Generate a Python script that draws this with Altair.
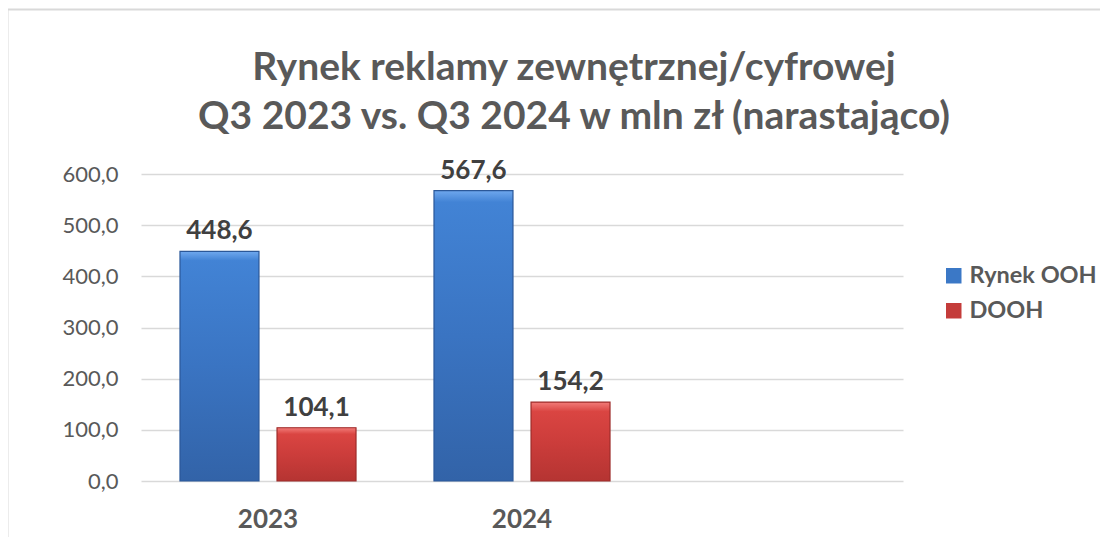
import altair as alt
import pandas as pd

years = ["2023", "2024"]
series = ["Rynek OOH", "DOOH"]
rynek_ooh = [448.6, 567.6]
dooh = [104.1, 154.2]
y_ticks = [0, 100, 200, 300, 400, 500, 600]
title_lines = ["Rynek reklamy zewnętrznej/cyfrowej", "Q3 2023 vs. Q3 2024 w mln zł (narastająco)"]

rows = []
for i, yr in enumerate(years):
    rows.append({"year": yr, "series": series[0], "value": rynek_ooh[i]})
    rows.append({"year": yr, "series": series[1], "value": dooh[i]})
df = pd.DataFrame(rows)
df["label"] = df["value"].map(lambda v: f"{v:.1f}".replace(".", ","))

FONT = "Lato"
GRAY = "#595959"

x_enc = alt.X("year:N", scale=alt.Scale(domain=years + [" "], paddingInner=0.307, paddingOuter=0.1535),
              axis=alt.Axis(title=None, domain=False, ticks=False, labelAngle=0,
                            labelFont=FONT, labelFontSize=26, labelFontWeight="bold",
                            labelColor=GRAY, labelBaseline="alphabetic", labelPadding=46))
xo_enc = alt.XOffset("series:N", scale=alt.Scale(domain=series, paddingInner=0.186, paddingOuter=0))
y_enc = alt.Y("value:Q", scale=alt.Scale(domain=[0, 600], nice=False),
              axis=alt.Axis(title=None, values=y_ticks, domain=False, ticks=False,
                            labelExpr="replace(format(datum.value, '.1f'), '.', ',')",
                            labelFont=FONT, labelFontSize=22, labelColor=GRAY,
                            labelPadding=23, grid=True, gridColor="#D9D9D9", gridWidth=1.5))

base = alt.Chart(df)

legend_bars = base.mark_bar().encode(
    x=x_enc, xOffset=xo_enc, y=y_enc,
    color=alt.Color("series:N", scale=alt.Scale(domain=series, range=["#3B78C6", "#C43C3A"]),
                    legend=alt.Legend(title=None, orient="none", legendX=801, legendY=90, padding=0,
                                      symbolType="square", symbolSize=240, symbolStrokeWidth=0,
                                      labelFont=FONT, labelFontSize=23.5, labelFontWeight="bold",
                                      labelColor=GRAY, labelOffset=4, rowPadding=10)),
)

blue_grad = alt.Gradient(gradient="linear", x1=0, y1=0, x2=0, y2=1, stops=[
    alt.GradientStop(color="#6FA8EE", offset=0),
    alt.GradientStop(color="#4283D5", offset=0.04),
    alt.GradientStop(color="#3A74C2", offset=0.5),
    alt.GradientStop(color="#3263A8", offset=1),
])
red_grad = alt.Gradient(gradient="linear", x1=0, y1=0, x2=0, y2=1, stops=[
    alt.GradientStop(color="#F27C79", offset=0),
    alt.GradientStop(color="#DA4542", offset=0.12),
    alt.GradientStop(color="#CC3D3B", offset=0.5),
    alt.GradientStop(color="#B53432", offset=1),
])

blue_bars = base.transform_filter(alt.datum.series == series[0]).mark_bar(
    fill=blue_grad, stroke="#2B5899", strokeWidth=1.2).encode(x=x_enc, xOffset=xo_enc, y=y_enc)
red_bars = base.transform_filter(alt.datum.series == series[1]).mark_bar(
    fill=red_grad, stroke="#9E2D2B", strokeWidth=1.2).encode(x=x_enc, xOffset=xo_enc, y=y_enc)

labels = base.mark_text(font=FONT, fontSize=26, fontWeight="bold", color="#404040",
                        baseline="alphabetic", dy=-12).encode(
    x=x_enc, xOffset=xo_enc, y=y_enc, text="label:N")

frame_df = pd.DataFrame({"k": [0]})
frame_left = alt.Chart(frame_df).mark_rule(color="#D9D9D9", strokeWidth=2).encode(
    x=alt.value(-133.5), y=alt.value(-165), y2=alt.value(400))
frame_top = alt.Chart(frame_df).mark_rule(color="#D9D9D9", strokeWidth=2).encode(
    x=alt.value(-134), x2=alt.value(1000), y=alt.value(-164.5))

chart = alt.layer(frame_left, frame_top, legend_bars, blue_bars, red_bars, labels).properties(
    width=762, height=307,
    autosize=alt.AutoSizeParams(type="none"),
    padding={"left": 133, "top": 166, "right": 197, "bottom": 56},
    title=alt.Title(title_lines, font=FONT, fontSize=39, fontWeight="bold", color=GRAY,
                    anchor="middle", lineHeight=49, offset=-129, dx=52),
).configure_view(stroke=None)

chart.save("out.html", embed_options={"renderer": "svg", "actions": False})
